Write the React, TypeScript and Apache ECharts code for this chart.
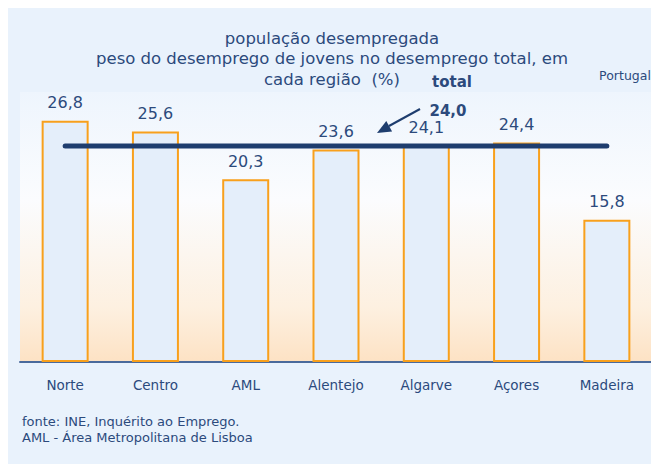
import React, { useEffect, useRef } from "react";
import * as echarts from "echarts";

const categories = ["Norte", "Centro", "AML", "Alentejo", "Algarve", "Açores", "Madeira"];
const values = [26.8, 25.6, 20.3, 23.6, 24.1, 24.4, 15.8];
const totalValue = 24.0;
const totals = categories.map(() => totalValue);
const titleLines = [
  "população desempregada",
  "peso do desemprego de jovens no desemprego total, em",
  "cada região  (%)",
];
const footnotes = ["fonte: INE, Inquérito ao Emprego.", "AML - Área Metropolitana de Lisboa"];

const fmt = (v: number) => v.toFixed(1).replace(".", ",");

const NAVY = "#2c4a7c";
const FONT = "DejaVu Sans, Verdana, sans-serif";

export default function App() {
  const ref = useRef<HTMLDivElement>(null);
  useEffect(() => {
    if (!ref.current) return;
    const chart = echarts.init(ref.current, null, { renderer: "svg" });
    const titleY = [30, 50, 71];
    chart.setOption({
      animation: false,
      backgroundColor: "#e9f2fc",
      textStyle: { fontFamily: FONT },
      grid: {
        left: 12,
        width: 632,
        top: 84,
        height: 270,
        show: true,
        borderWidth: 0,
        backgroundColor: new echarts.graphic.LinearGradient(0, 0, 0, 1, [
          { offset: 0, color: "#eef5fd" },
          { offset: 0.4, color: "#fbfcfe" },
          { offset: 0.8, color: "#fdf0e0" },
          { offset: 1, color: "#fde2c4" },
        ]),
      },
      xAxis: {
        type: "category",
        data: categories,
        axisLine: { lineStyle: { color: "#4a6a9c", width: 2 } },
        axisTick: { show: false },
        axisLabel: { color: NAVY, fontSize: 13.5, margin: 16, fontFamily: FONT },
      },
      yAxis: {
        type: "value",
        min: 0,
        max: 30,
        show: false,
        splitLine: { show: false },
      },
      series: [
        {
          type: "bar",
          data: values,
          barWidth: 47,
          itemStyle: { color: "#e4eefa", borderColor: "#f8a01c", borderWidth: 2 },
          label: {
            show: true,
            position: "top",
            distance: 10,
            color: NAVY,
            fontSize: 16,
            fontFamily: FONT,
            formatter: (p: any) => fmt(p.value),
          },
          z: 2,
        },
        {
          type: "line",
          data: totals,
          symbol: "none",
          lineStyle: { color: "#1e3d6e", width: 5, cap: "round" },
          z: 3,
        },
      ],
      graphic: [
        ...titleLines.map((t, i) => ({
          type: "text",
          x: 324,
          y: titleY[i],
          style: {
            text: t,
            fill: NAVY,
            font: `16.5px ${FONT}`,
            textAlign: "center",
            textVerticalAlign: "middle",
          },
        })),
        {
          type: "text",
          x: 444,
          y: 74,
          style: { text: "total", fill: NAVY, font: `bold 15px ${FONT}`, textAlign: "center", textVerticalAlign: "middle" },
        },
        {
          type: "text",
          x: 440,
          y: 103,
          style: { text: fmt(totalValue), fill: NAVY, font: `bold 15px ${FONT}`, textAlign: "center", textVerticalAlign: "middle" },
        },
        {
          type: "text",
          x: 617,
          y: 67,
          style: { text: "Portugal", fill: NAVY, font: `12.5px ${FONT}`, textAlign: "center", textVerticalAlign: "middle" },
        },
        {
          type: "line",
          shape: { x1: 412, y1: 101, x2: 381, y2: 118 },
          style: { stroke: "#1e3d6e", lineWidth: 2 },
        },
        {
          type: "polygon",
          shape: { points: [[369, 125], [384.1, 123.4], [378.3, 113.0]] },
          style: { fill: "#1e3d6e" },
        },
        ...footnotes.map((t, i) => ({
          type: "text",
          x: 14,
          y: 413 + i * 16,
          style: { text: t, fill: NAVY, font: `13px ${FONT}`, textAlign: "left", textVerticalAlign: "middle" },
        })),
      ],
    });
    return () => chart.dispose();
  }, []);
  return <div ref={ref} style={{ width: 651, height: 456 }} />;
}
